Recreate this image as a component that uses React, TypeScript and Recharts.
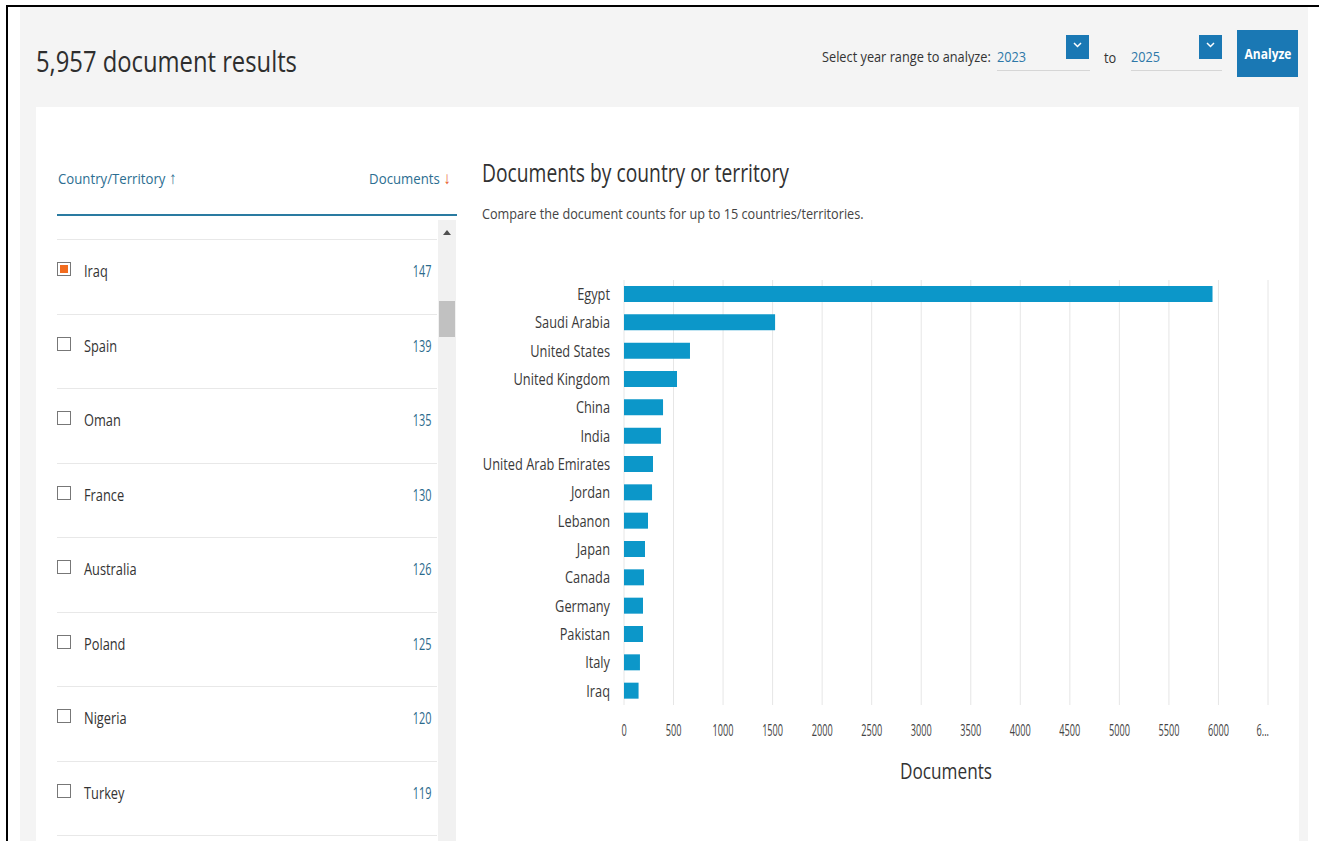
import { BarChart, Bar, XAxis, YAxis, CartesianGrid, Label } from 'recharts'

const countries = ['Egypt', 'Saudi Arabia', 'United States', 'United Kingdom', 'China', 'India', 'United Arab Emirates', 'Jordan', 'Lebanon', 'Japan', 'Canada', 'Germany', 'Pakistan', 'Italy', 'Iraq']
const documents = [5940, 1525, 666, 535, 394, 373, 293, 283, 242, 212, 202, 192, 192, 161, 147]

const xTicks = [0, 500, 1000, 1500, 2000, 2500, 3000, 3500, 4000, 4500, 5000, 5500, 6000, 6500]
const xTickLabels = ['0', '500', '1000', '1500', '2000', '2500', '3000', '3500', '4000', '4500', '5000', '5500', '6000', '6...']

const tableCountries = ['Iraq', 'Spain', 'Oman', 'France', 'Australia', 'Poland', 'Nigeria', 'Turkey']
const tableDocuments = [147, 139, 135, 130, 126, 125, 120, 119]
const tableChecked = [true, false, false, false, false, false, false, false]

const FONT = "'Open Sans', sans-serif"
const BLUE = '#1a78b4'
const TEAL = '#2c6e91'

const chartData = countries.map((c, i) => ({ country: c, docs: documents[i] }))

// condensed-looking text: centred vertically on y, squeezed horizontally by sx
const T = ({ x, y, size, sx, color = '#333', align = 'left', weight = 400, children }: any) => (
    <div style={{
        position: 'absolute', top: y, fontSize: size, lineHeight: 1, color, fontWeight: weight, whiteSpace: 'nowrap',
        ...(align === 'right' ? { right: 1319 - x } : align === 'center' ? { left: x, width: 0, display: 'flex', justifyContent: 'center' } : { left: x }),
        transform: `translateY(-50%) scaleX(${sx})`,
        transformOrigin: align === 'right' ? 'right center' : align === 'center' ? 'center' : 'left center'
    }}>{children}</div>
)

const XTick = (props: any) => {
    const { x, y, payload } = props
    const idx = xTicks.indexOf(payload.value)
    const last = idx === xTicks.length - 1
    return (
        <text transform={`translate(${last ? x + 1 : x},${y}) scale(0.54,1)`} dy="0.71em" textAnchor={last ? 'end' : 'middle'}
            fill="#444" fontSize={17} fontFamily={FONT}>
            {xTickLabels[idx]}
        </text>
    )
}

const YTick = (props: any) => {
    const { x, y, payload } = props
    return (
        <text transform={`translate(${x},${y}) scale(0.8,1)`} dy="0.36em" textAnchor="end"
            fill="#3a3a3a" fontSize={16} fontFamily={FONT}>
            {payload.value}
        </text>
    )
}

const Chevron = ({ x }: { x: number }) => (
    <div style={{ position: 'absolute', left: x, top: 35, width: 23, height: 24, background: BLUE }}>
        <svg width={23} height={24}>
            <polyline points="8,8 11.5,11.5 15,8" fill="none" stroke="#fff" strokeWidth={1.5} />
        </svg>
    </div>
)

const box = (left: number, top: number, extra: any = {}) => ({ position: 'absolute' as const, left, top, ...extra })

export default function App() {
    return (
        <div style={{ position: 'absolute', left: 0, top: 0, width: 1319, height: 841, background: '#fff', overflow: 'hidden', fontFamily: FONT }}>
            {/* frame */}
            <div style={box(6, 5, { width: 1313, height: 2, background: '#000' })} />
            <div style={box(6, 5, { width: 2, height: 836, background: '#000' })} />
            <div style={box(20, 7, { width: 1288, height: 834, background: '#f4f4f4' })} />

            {/* header */}
            <T x={36} y={60} size={29} sx={0.82} color="#2e2e2e">5,957 document results</T>
            <T x={822} y={56} size={15} sx={0.85} color="#333">Select year range to analyze:</T>
            <T x={997} y={56} size={15} sx={0.85} color="#2e78a8">2023</T>
            <div style={box(997, 70, { width: 93, height: 1, background: '#d6d6d6' })} />
            <Chevron x={1066} />
            <T x={1104} y={57} size={15} sx={0.85} color="#333">to</T>
            <T x={1131} y={56} size={15} sx={0.85} color="#2e78a8">2025</T>
            <div style={box(1131, 70, { width: 91, height: 1, background: '#d6d6d6' })} />
            <Chevron x={1199} />
            <div style={box(1237, 30, { width: 61, height: 47, background: BLUE })} />
            <T x={1267.5} y={53} size={15} sx={0.8} color="#fff" weight={700} align="center">Analyze</T>

            {/* card */}
            <div style={box(36, 107, { width: 1263, height: 734, background: '#fff' })} />

            {/* table */}
            <T x={58} y={177} size={15} sx={0.88} color={TEAL}>Country/Territory <span style={{ fontSize: 17 }}>↑</span></T>
            <T x={451} y={177} size={15} sx={0.88} color={TEAL} align="right">
                Documents <span style={{ color: '#e8572a', fontSize: 17 }}>↓</span>
            </T>
            <div style={box(57, 214, { width: 400, height: 2, background: '#2a7ba1' })} />

            {tableCountries.map((c, i) => {
                const top = 239 + i * 74.5
                return (
                    <div key={c}>
                        <div style={box(57, top, { width: 380, height: 1, background: '#e8e8e8' })} />
                        <div style={box(57, top + 23, { width: 12, height: 12, border: '1px solid #777', background: '#fff' })}>
                            {tableChecked[i] && <div style={box(2, 2, { width: 8, height: 8, background: '#f26c1f' })} />}
                        </div>
                        <T x={84} y={top + 32} size={16} sx={0.8} color="#333">{c}</T>
                        <T x={431} y={top + 32} size={16} sx={0.68} color="#2b6a8c" align="right">{tableDocuments[i]}</T>
                    </div>
                )
            })}
            <div style={box(57, 835, { width: 380, height: 1, background: '#e8e8e8' })} />

            {/* scrollbar */}
            <div style={box(438, 220, { width: 18, height: 621, background: '#f1f1f1' })} />
            <div style={box(443, 230, { width: 0, height: 0, borderLeft: '4px solid transparent', borderRight: '4px solid transparent', borderBottom: '5px solid #505050' })} />
            <div style={box(439, 301, { width: 16, height: 36, background: '#c1c1c1' })} />

            {/* chart titles */}
            <T x={482} y={172} size={25} sx={0.77} color="#323232">Documents by country or territory</T>
            <T x={482} y={214} size={14} sx={0.905} color="#444">Compare the document counts for up to 15 countries/territories.</T>

            <div style={box(470, 270)}>
                <BarChart width={820} height={520} data={chartData} layout="vertical"
                    margin={{ top: 10, right: 22, left: 10, bottom: 25 }} barSize={16}>
                    <CartesianGrid horizontal={false} stroke="#e6e6e6" />
                    <XAxis type="number" dataKey="docs" domain={[0, 6500]} ticks={xTicks} interval={0}
                        axisLine={false} tickLine={false} tickSize={6} tickMargin={13} height={60}
                        tick={<XTick />}>
                        <Label content={(p: any) => (
                            <text transform={`translate(${p.viewBox.x + p.viewBox.width / 2},${p.viewBox.y + 66}) scale(0.82,1)`}
                                dy="0.36em" textAnchor="middle" fill="#333" fontSize={21} fontFamily={FONT}>Documents</text>
                        )} />
                    </XAxis>
                    <YAxis type="category" dataKey="country" width={144} axisLine={false} tickLine={false}
                        tickSize={0} tickMargin={14} interval={0} tick={<YTick />} />
                    <Bar dataKey="docs" fill="#0c97c9" isAnimationActive={false} />
                </BarChart>
            </div>
        </div>
    )
}
